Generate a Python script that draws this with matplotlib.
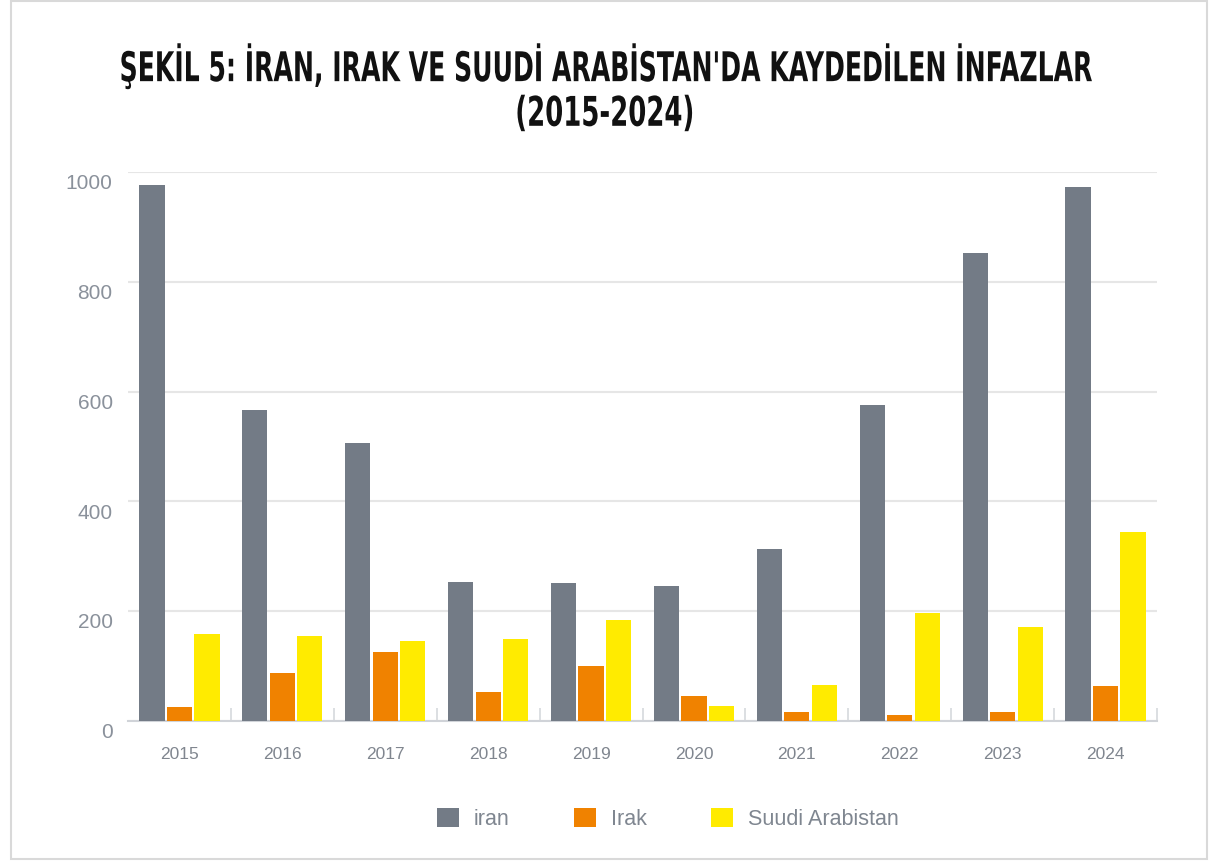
import matplotlib.pyplot as plt
import matplotlib.transforms as mtransforms
import matplotlib.patheffects as pe
import numpy as np

# veriler
years = ['2015', '2016', '2017', '2018', '2019', '2020', '2021', '2022', '2023', '2024']
iran = [977, 567, 507, 253, 251, 246, 314, 576, 853, 972]
irak = [26, 88, 125, 52, 100, 45, 17, 11, 16, 63]
suudi = [158, 154, 146, 149, 184, 27, 65, 196, 172, 345]
series_names = ['iran', 'Irak', 'Suudi Arabistan']
colors = ['#737b86', '#f08200', '#ffeb00']
yticks = [0, 200, 400, 600, 800, 1000]

plt.rcParams['font.family'] = ['Liberation Sans', 'DejaVu Sans']


class Stretch(pe.AbstractPathEffect):
    """başlığı dar ve uzun göster (Bebas benzeri font yok)"""
    def __init__(self, sx, sy, cx, cy):
        super().__init__()
        self.sx, self.sy = sx, sy
        self.cx, self.cy = cx, cy

    def draw_path(self, renderer, gc, tpath, affine, rgbFace=None):
        t = affine + mtransforms.Affine2D().translate(-self.cx, -self.cy) \
            .scale(self.sx, self.sy).translate(self.cx, self.cy)
        renderer.draw_path(gc, tpath, t, rgbFace)


fig = plt.figure(figsize=(12.1, 8.61), dpi=100)
fig.patch.set_facecolor('white')
# ince çerçeve
fig.add_artist(plt.Rectangle((11 / 1210, 2 / 861), 1196 / 1210, 858 / 861,
                             transform=fig.transFigure, fill=False,
                             edgecolor='#d9d9d9', linewidth=1.5))

ax = fig.add_axes([128 / 1210, 1 - 721 / 861, 1029 / 1210, 549 / 861])

x = np.arange(len(years))
w = 0.245
gap = 0.022
for k, (vals, name, c) in enumerate(zip([iran, irak, suudi], series_names, colors)):
    ax.bar(x + (k - 1) * (w + gap), vals, width=w, color=c, label=name,
           edgecolor='none', zorder=3)

ax.set_xlim(-0.5, 9.5)
ax.set_ylim(0, 1000)
ax.set_yticks(yticks)
ax.set_yticklabels([str(v) for v in yticks])
ax.set_xticks(x)
ax.set_xticklabels(years)
ax.set_xticks(x + 0.5, minor=True)

for s in ['top', 'right', 'left']:
    ax.spines[s].set_visible(False)
ax.spines['bottom'].set_color('#d0d3d8')
ax.spines['bottom'].set_linewidth(1.5)
ax.grid(axis='y', color='#e6e6e6', linewidth=1.5, zorder=0)
ax.set_axisbelow(True)

ax.tick_params(axis='y', length=0, pad=11, labelsize=15, labelcolor='#8a919b')
ax.tick_params(axis='x', which='major', length=0, pad=19, labelsize=12.5,
               labelcolor='#80868f')
ax.tick_params(axis='x', which='minor', direction='in', length=9.5, width=1.2,
               color='#d6d9dd')

# y etiketlerini biraz aşağı kaydır
offset = mtransforms.ScaledTranslation(0, -7 / 72, fig.dpi_scale_trans)
for lab in ax.get_yticklabels():
    lab.set_transform(lab.get_transform() + offset)

# başlık (2 satır)
fig.text(0.5, 1 - 66 / 861, "ŞEKİL 5: İRAN, IRAK VE SUUDİ ARABİSTAN'DA KAYDEDİLEN İNFAZLAR",
         ha='center', va='center', fontsize=20, fontweight='bold',
         family='DejaVu Sans', color='#111111',
         path_effects=[Stretch(0.905, 1.475, 605, 861 - 66)])
fig.text(0.5, 1 - 114 / 861, "(2015-2024)",
         ha='center', va='center', fontsize=20, fontweight='bold',
         family='DejaVu Sans', color='#111111',
         path_effects=[Stretch(0.935, 1.475, 605, 861 - 114)])

leg = fig.legend(loc='center', bbox_to_anchor=(668 / 1210, 1 - 819 / 861), ncol=3,
                 frameon=False, fontsize=15.5, handlelength=1.0, handleheight=1.0,
                 handletextpad=0.7, columnspacing=3.0, labelcolor='#7f8690')

fig.savefig('out.png', dpi=100)
